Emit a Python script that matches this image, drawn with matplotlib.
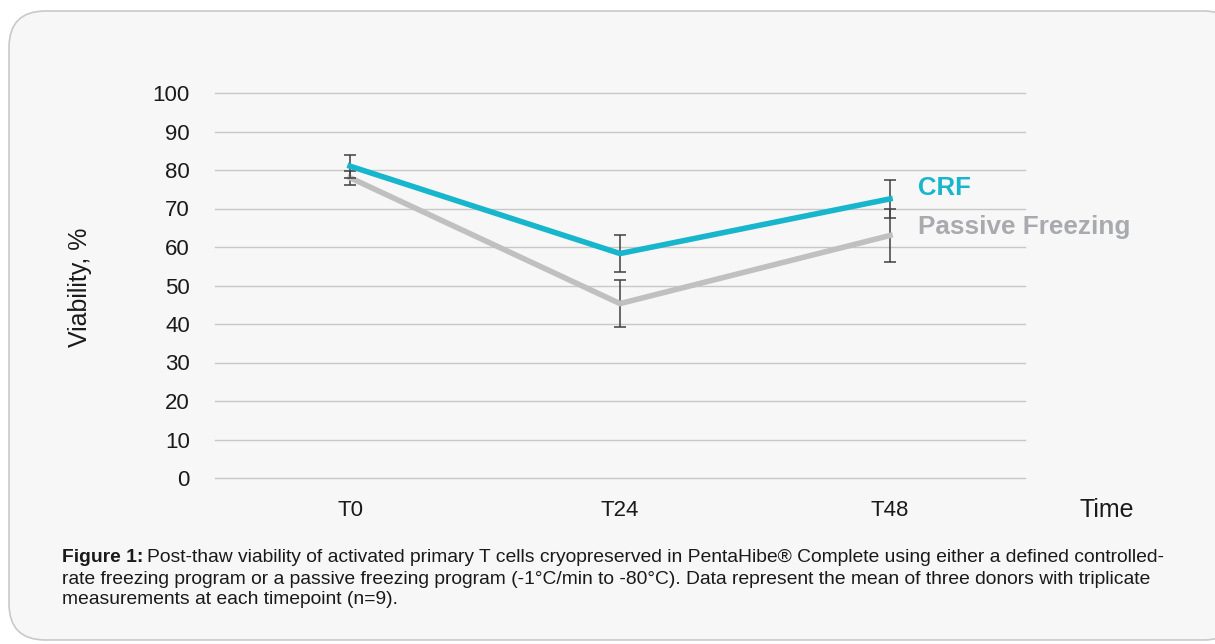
import numpy as np
import matplotlib.pyplot as plt
from matplotlib.patches import FancyBboxPatch

plt.rcParams['font.family'] = ['Liberation Sans', 'DejaVu Sans']

# data
timepoints = ['T0', 'T24', 'T48']
crf_mean = [81.0, 58.3, 72.5]
crf_err = [3.0, 4.7, 5.0]
passive_mean = [78.0, 45.3, 63.0]
passive_err = [1.8, 6.0, 7.0]
yticks = [0, 10, 20, 30, 40, 50, 60, 70, 80, 90, 100]

W, H = 1215, 644
fig = plt.figure(figsize=(W / 100, H / 100), dpi=100)
fig.patch.set_facecolor('white')

# rounded panel behind everything
box = FancyBboxPatch((9 / W, 1 - 640 / H), (1240 - 9) / W, (640 - 11) / H,
                     boxstyle='round,pad=0,rounding_size=0.03',
                     transform=fig.transFigure, facecolor='#f7f7f7',
                     edgecolor='#c9c9c9', linewidth=1.2, zorder=-5,
                     mutation_aspect=W / H)
fig.patches.append(box)

ax = fig.add_axes([215 / W, 1 - 478 / H, 810 / W, 385 / H])
ax.set_zorder(2)
ax.set_facecolor('none')

x = np.arange(len(timepoints))
ax.errorbar(x, passive_mean, yerr=passive_err, color='#c0c0c0', lw=4,
            ecolor='#404040', elinewidth=1.1, capsize=4, capthick=1.1, zorder=3)
ax.errorbar(x, crf_mean, yerr=crf_err, color='#17b6cc', lw=4,
            ecolor='#404040', elinewidth=1.1, capsize=4, capthick=1.1, zorder=4)

ax.set_xlim(-0.5, 2.5)
ax.set_ylim(0, 100)
ax.set_yticks(yticks)
ax.set_xticks(x)
ax.set_xticklabels(timepoints)
ax.yaxis.grid(True, color='#c8c8c8', lw=1)
for gl in ax.yaxis.get_gridlines():
    gl.set_clip_on(False)
ax.set_axisbelow(True)
for s in ax.spines.values():
    s.set_visible(False)
ax.tick_params(length=0, labelsize=16, colors='#1a1a1a')
ax.tick_params(axis='y', pad=18)
ax.tick_params(axis='x', pad=16)

fig.text(80 / W, 1 - 287 / H, 'Viability, %', fontsize=18, color='#1a1a1a',
         rotation=90, ha='center', va='center')
fig.text(1080 / W, 1 - 510 / H, 'Time', fontsize=18, color='#1a1a1a', va='center')
fig.text(918 / W, 1 - 188 / H, 'CRF', fontsize=18.5, fontweight='bold',
         color='#17b6cc', va='center')
fig.text(918 / W, 1 - 227 / H, 'Passive Freezing', fontsize=18.8, fontweight='bold',
         color='#a9aaae', va='center')

# caption
cap = ['Post-thaw viability of activated primary T cells cryopreserved in PentaHibe® Complete using either a defined controlled-',
       'rate freezing program or a passive freezing program (-1°C/min to -80°C). Data represent the mean of three donors with triplicate',
       'measurements at each timepoint (n=9).']
fs = 13.9
t = fig.text(62 / W, 1 - 558 / H, 'Figure 1:', fontsize=fs, fontweight='bold',
             color='#1a1a1a', va='center')
fig.canvas.draw()
bb = t.get_window_extent()
fig.text(bb.x1 / W + 4 / W, 1 - 558 / H, cap[0], fontsize=fs, color='#1a1a1a', va='center')
fig.text(62 / W, 1 - 579 / H, cap[1], fontsize=fs, color='#1a1a1a', va='center')
fig.text(62 / W, 1 - 600 / H, cap[2], fontsize=fs, color='#1a1a1a', va='center')

fig.savefig('out.png', dpi=100)
